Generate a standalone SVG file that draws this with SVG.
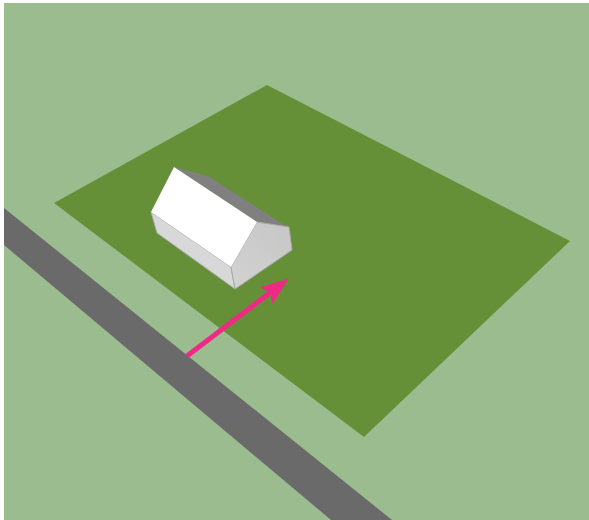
<svg xmlns="http://www.w3.org/2000/svg" width="589" height="520" viewBox="0 0 589 520">
<defs><style>
.edge{stroke-width:1;stroke-linejoin:round}
</style>
<linearGradient id="gable" x1="0" y1="1" x2="1" y2="0"><stop offset="0" stop-color="#d2d2d2"/><stop offset="1" stop-color="#c6c6c6"/></linearGradient>
<marker id="head" markerUnits="userSpaceOnUse" markerWidth="30" markerHeight="24" refX="6" refY="12" orient="auto"><path d="M28 12 L0 1.5 L5 12 L0 22.5Z" fill="#ee2a85"/></marker></defs>
<rect width="589" height="520" fill="#fff"/>
<rect id="ground" x="4" y="3" width="585" height="517" fill="#9bbc8f"/>
<polygon id="road" points="4,208 392,520 331,520 4,245" fill="#6a6a6a"/>
<polygon id="lot" points="267,85 570,241 364,437 54,203" fill="#669038"/>
<g id="house">
<polygon points="174,167 208,176 289,228 257,222" fill="#808080"/>
<polygon points="151,212 231,267 235,289 157,233" fill="#d8d8d8" stroke="#a8a8a8" class="edge"/>
<polygon points="257,222 289,227 292,250 235,289 231,267" fill="url(#gable)" stroke="#aaaaaa" class="edge"/>
<polygon points="174,167 257,222 231,267 151,212" fill="#fff"/>
</g>
<g id="connectors"><line x1="187" y1="356" x2="271" y2="292" stroke="#ee2a85" stroke-width="5" marker-end="url(#head)"/></g>
</svg>
